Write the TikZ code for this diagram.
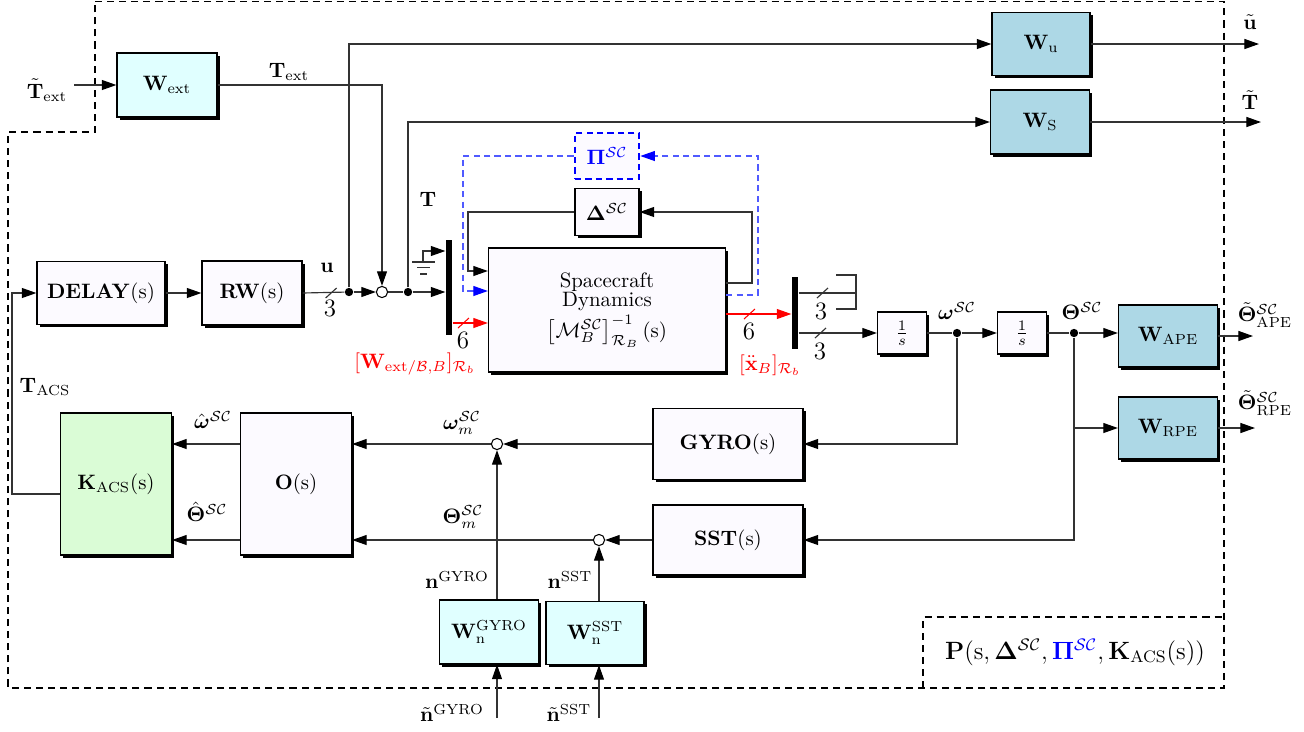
\documentclass[tikz,border=0pt]{standalone}
\usepackage{amsmath,amssymb,bm}
\usetikzlibrary{arrows.meta,shadows,calc}
\definecolor{blkfill}{RGB}{252,250,255}
\definecolor{wcyan}{RGB}{224,255,255}
\definecolor{wblue}{RGB}{173,216,230}
\definecolor{kgreen}{RGB}{218,252,214}
\definecolor{pblue}{RGB}{0,0,255}
\definecolor{dblue}{RGB}{80,90,255}
\begin{document}
\begin{tikzpicture}[x=0.48pt,y=-0.48pt,
  sz/.style 2 args={minimum width=#1*0.48pt,minimum height=#2*0.48pt},
  blk/.style={draw=black,line width=0.6pt,fill=blkfill,inner sep=0pt,
    drop shadow={shadow xshift=1.2pt,shadow yshift=-1.2pt,opacity=1,fill=black}},
  wire/.style={draw=black!80,line width=0.55pt},
  arr/.style={wire,-{Triangle[length=7pt,width=4.8pt,color=black]}},
  rarr/.style={draw=red,line width=0.55pt,-{Triangle[length=7pt,width=4.8pt]}},
  barr/.style={draw=dblue,dashed,dash pattern=on 3pt off 2pt,line width=0.55pt,-{Triangle[length=7pt,width=4.8pt,color=pblue,fill=pblue]}},
  dotn/.style={circle,fill=black,inner sep=0pt,minimum size=4pt},
  sumc/.style={circle,draw=black,fill=white,inner sep=0pt,minimum size=5.4pt,line width=0.5pt},
  muxn/.style={fill=black,inner sep=0pt},
  bnd/.style={draw=black,dash pattern=on 3.4pt off 2.4pt,line width=0.75pt},
  dig/.style={font=\large},
]
\useasboundingbox (0,0) rectangle (1304,731);

% outer dashed boundary
\draw[bnd] (95,1.5) -- (1224,1.5) -- (1224,688) -- (8,688) -- (8,132) -- (95,132) -- cycle;
\draw[bnd] (923,688) -- (923,617) -- (1224,617);
\node (plabel) at (1075,652) {\large $\mathbf{P}(\mathrm{s},\mathbf{\Delta}^{\mathcal{SC}},\textcolor{pblue}{\mathbf{\Pi}^{\mathcal{SC}}},\mathbf{K}_{\mathrm{ACS}}(\mathrm{s}))$};

% blocks
\node[blk,fill=wcyan,sz={100}{64}] (wext) at (167,85) {$\mathbf{W}_{\mathrm{ext}}$};
\node[blk,sz={128}{63}] (delay) at (101,293) {$\mathbf{DELAY}(\mathrm{s})$};
\node[blk,sz={100}{64}] (rw) at (252,293) {$\mathbf{RW}(\mathrm{s})$};
\node[blk,fill=wblue,sz={98}{63}] (wu) at (1041,44) {$\mathbf{W}_{\mathrm{u}}$};
\node[blk,fill=wblue,sz={99}{64}] (ws) at (1040,122) {$\mathbf{W}_{\mathrm{S}}$};
\node[draw=pblue,dashed,dash pattern=on 3pt off 2pt,line width=1.3pt,fill=blkfill,sz={64}{46}] (pi) at (607,156) {$\color{pblue}\mathbf{\Pi}^{\mathcal{SC}}$};
\node[blk,sz={64}{47}] (delta) at (607,212) {$\mathbf{\Delta}^{\mathcal{SC}}$};
\node[blk,sz={237}{124},align=center] (sc) at (607,310) {Spacecraft\\[-2.5pt]Dynamics\\[1pt]$\left[\mathcal{M}_B^{\mathcal{SC}}\right]^{-1}_{\mathcal{R}_B}(\mathrm{s})$};
\node[blk,sz={49}{42}] (int1) at (902,333) {$\frac{1}{s}$};
\node[blk,sz={49}{42}] (int2) at (1022,333) {$\frac{1}{s}$};
\node[blk,fill=wblue,sz={99}{62}] (wape) at (1168,336) {$\mathbf{W}_{\mathrm{APE}}$};
\node[blk,fill=wblue,sz={99}{62}] (wrpe) at (1168,428) {$\mathbf{W}_{\mathrm{RPE}}$};
\node[blk,sz={150}{71}] (gyro) at (728,444) {$\mathbf{GYRO}(\mathrm{s})$};
\node[blk,sz={150}{70}] (sst) at (728,540) {$\mathbf{SST}(\mathrm{s})$};
\node[blk,fill=kgreen,sz={111}{142}] (kacs) at (116,484) {$\mathbf{K}_{\mathrm{ACS}}(\mathrm{s})$};
\node[blk,sz={111}{142}] (obs) at (296,484) {$\mathbf{O}(\mathrm{s})$};
\node[blk,fill=wcyan,sz={99}{64}] (wng) at (489,632) {$\mathbf{W}_{\mathrm{n}}^{\mathrm{GYRO}}$};
\node[blk,fill=wcyan,sz={98}{63}] (wns) at (595,633) {$\mathbf{W}_{\mathrm{n}}^{\mathrm{SST}}$};

% sums, muxes, dots
\node[sumc] (s1) at (382,292) {};
\node[sumc] (s2) at (497,444) {};
\node[sumc] (s3) at (599,540) {};
\node[muxn,sz={6.5}{95}] (m1) at (449,287.5) {};
\node[muxn,sz={6.5}{72}] (m2) at (795,313) {};
\node[dotn] (d1) at (349,292) {};
\node[dotn] (d2) at (408,292) {};
\node[dotn] (d3) at (957,333) {};
\node[dotn] (d4) at (1074,333) {};
\coordinate (tin) at (74,85);
\coordinate (gnd) at (423,262);
\coordinate (ing) at (497,718);
\coordinate (ins) at (599,718);
\coordinate (oape) at (1253,336);
\coordinate (orpe) at (1255,428);
\coordinate (ou) at (1259,44);
\coordinate (ot) at (1261,122);

% wires
\draw[arr] (tin) -- (wext.west);
\draw[arr] (wext.east) -| (s1.north);
\draw[arr] (delay) -- (rw);
\draw[wire] (rw.east) -- (d1);
\draw[arr] (d1) -- (s1);
\draw[arr] (d1) |- (wu.west);
\draw[wire] (s1) -- (d2);
\draw[arr] (d2) -- (d2 -| m1.west);
\draw[arr] (d2) |- (ws.west);
\draw[arr] (wu.east) -- (ou);
\draw[arr] (ws.east) -- (ot);
% ground
\draw[arr] (gnd) |- (m1.west |- 0,251);
\draw[wire] (412,262) -- (435,262) (417,267.5) -- (430,267.5) (420,274) -- (427,274);
% red input
\draw[rarr] (m1.east |- 0,323) -- (sc.west |- 0,323);
\draw[draw=red,line width=0.5pt] (458,328) -- (469,318);
% delta loop
\draw[arr] (sc.east |- 0,283) -- (752,283) |- (delta.east);
\draw[arr] (delta.west) -| (468,271) -- (sc.west |- 0,271);
% pi loop
\draw[barr] (sc.east |- 0,295) -- (758,295) |- (pi.east);
\draw[barr] (pi.west) -| (463,291) -- (sc.west |- 0,291);
% red output
\draw[rarr] (sc.east |- 0,314) -- (m2.west |- 0,314);
\draw[draw=red,line width=0.5pt] (744,319) -- (755,309);
% mux2 outputs
\draw[wire] (m2.east |- 0,293) -- (856,293);
\draw[wire] (836,275) -- (856,275) -- (856,309) -- (836,309);
\draw[wire] (817,298) -- (828,288);
\draw[arr] (m2.east |- int1.west) -- (int1.west);
\draw[wire] (815,338) -- (826,328);
\draw[wire] (rw.east) ++(23,5) -- ++(11,-10);
% integrators chain
\draw[wire] (int1) -- (d3);
\draw[arr] (d3) -- (int2);
\draw[wire] (int2) -- (d4);
\draw[arr] (d4) -- (d4 -| wape.west);
\draw[arr] (wape.east) -- (oape);
\draw[arr] (wrpe.east) -- (orpe);
\draw[arr] (d4) |- (sst.east);
\draw[arr] (d4 |- wrpe.west) -- (wrpe.west);
\draw[arr] (d3) |- (gyro.east);
% sensors
\draw[arr] (gyro.west) -- (s2.east);
\draw[arr] (s2.west) -- (s2 -| obs.east);
\draw[arr] (sst.west) -- (s3.east);
\draw[arr] (s3.west) -- (s3 -| obs.east);
\draw[arr] (obs.west |- s2) -- (kacs.east |- s2);
\draw[arr] (obs.west |- s3) -- (kacs.east |- s3);
\draw[arr] (s2 |- wng.north) -- (s2.south);
\draw[arr] (ing) -- (ing |- wng.south);
\draw[arr] (s3 |- wns.north) -- (s3.south);
\draw[arr] (ins) -- (ins |- wns.south);
% feedback
\draw[arr] (kacs.west |- 0,494) -| (12,293) -- (delay.west);

% labels
\node at (47,90) {$\tilde{\mathbf{T}}_{\mathrm{ext}}$};
\node at (289,72) {$\mathbf{T}_{\mathrm{ext}}$};
\node at (327,268) {$\mathbf{u}$};
\node[dig] at (330,308) {$3$};
\node at (428,199) {$\mathbf{T}$};
\node[dig] at (463,340) {$6$};
\node[dig] at (749,331) {$6$};
\node[dig] at (821,311) {$3$};
\node[dig] at (820,351) {$3$};
\node at (1250,22) {$\tilde{\mathbf{u}}$};
\node at (1250,100) {$\tilde{\mathbf{T}}$};
\node[text=red] at (415,364) {$[\mathbf{W}_{\mathrm{ext}/\mathcal{B},B}]_{\mathcal{R}_b}$};
\node[text=red] at (770,365) {$[\ddot{\mathbf{x}}_B]_{\mathcal{R}_b}$};
\node at (957,311) {$\boldsymbol{\omega}^{\mathcal{SC}}$};
\node at (1082,311) {$\mathbf{\Theta}^{\mathcal{SC}}$};
\node at (1265,315) {$\tilde{\mathbf{\Theta}}^{\mathcal{SC}}_{\mathrm{APE}}$};
\node at (1265,403) {$\tilde{\mathbf{\Theta}}^{\mathcal{SC}}_{\mathrm{RPE}}$};
\node at (462,423) {$\boldsymbol{\omega}_m^{\mathcal{SC}}$};
\node at (463,517) {$\mathbf{\Theta}_m^{\mathcal{SC}}$};
\node at (213,420) {$\hat{\boldsymbol{\omega}}^{\mathcal{SC}}$};
\node at (207,512) {$\hat{\mathbf{\Theta}}^{\mathcal{SC}}$};
\node at (45,387) {$\mathbf{T}_{\mathrm{ACS}}$};
\node at (457,580) {$\mathbf{n}^{\mathrm{GYRO}}$};
\node at (570,580) {$\mathbf{n}^{\mathrm{SST}}$};
\node at (452,713) {$\tilde{\mathbf{n}}^{\mathrm{GYRO}}$};
\node at (569,713) {$\tilde{\mathbf{n}}^{\mathrm{SST}}$};
\end{tikzpicture}
\end{document}
